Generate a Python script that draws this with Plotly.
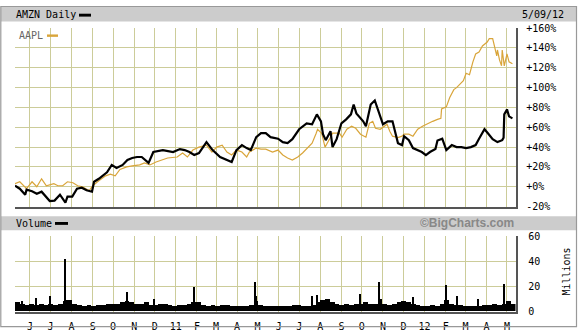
import plotly.graph_objects as go
import pandas as pd

# ---------------- data ----------------
amzn_dates = ["2010-05-10","2010-05-17","2010-05-25","2010-05-27","2010-06-04","2010-06-11","2010-06-18","2010-06-30",
              "2010-07-07","2010-07-15","2010-07-23","2010-07-26","2010-08-02","2010-08-09","2010-08-16","2010-08-23",
              "2010-08-31","2010-09-03","2010-09-10","2010-09-22","2010-09-29","2010-10-06","2010-10-15","2010-10-22",
              "2010-10-29","2010-11-05","2010-11-12","2010-11-22","2010-11-29","2010-12-13","2010-12-28","2011-01-07",
              "2011-01-14","2011-01-21","2011-01-28","2011-02-04","2011-02-15","2011-02-24","2011-03-07","2011-03-17",
              "2011-03-24","2011-03-31","2011-04-08","2011-04-15","2011-04-21","2011-04-29","2011-05-06","2011-05-13",
              "2011-05-20","2011-05-31","2011-06-07","2011-06-14","2011-06-21","2011-07-01","2011-07-12","2011-07-20",
              "2011-07-27","2011-08-02","2011-08-05","2011-08-09","2011-08-16","2011-08-19","2011-08-25","2011-09-01",
              "2011-09-08","2011-09-15","2011-09-19","2011-09-23","2011-10-03","2011-10-07","2011-10-14","2011-10-20",
              "2011-10-26","2011-11-01","2011-11-08","2011-11-15","2011-11-23","2011-11-29","2011-12-02","2011-12-09",
              "2011-12-15","2011-12-21","2011-12-28","2012-01-03","2012-01-09","2012-01-17","2012-01-20","2012-01-27",
              "2012-02-02","2012-02-10","2012-02-17","2012-02-24","2012-03-02","2012-03-09","2012-03-16","2012-03-21",
              "2012-03-29","2012-04-03","2012-04-10","2012-04-17","2012-04-24","2012-04-26","2012-04-27","2012-05-01",
              "2012-05-04","2012-05-09"]
amzn_pct = [1,-2,-8,-3,-4.5,-7,-5,-14.5,
            -14,-8,-16,-10,-10,-2,-1,-3.5,
            -5,5,8,14.5,22,19,22,27,
            29,30,30,24,35,37,35,38,
            37,35,32,34,45,37,30,27,
            25,37,42,39,37,50,54,54,
            50,48.5,45,44,48,58,64,63,
            73,66,53,47,56,40,48,64,
            68,73,83,74,66,61,83,87,
            76,63,66,66,44,42,51,47,
            39,37,35,32,35,38,46.6,48.5,
            37,42,40,40,39,40,42,48.5,
            58,54,48,45,47,49.5,73,78,
            71,69]

aapl_dates = ["2010-05-10","2010-05-17","2010-05-27","2010-06-04","2010-06-11","2010-06-18","2010-06-25","2010-07-06",
              "2010-07-12","2010-07-19","2010-07-26","2010-08-03","2010-08-10","2010-08-17","2010-08-27","2010-09-01",
              "2010-09-10","2010-09-20","2010-09-27","2010-10-04","2010-10-11","2010-10-21","2010-10-29","2010-11-09",
              "2010-11-16","2010-11-24","2010-12-03","2010-12-20","2011-01-03","2011-01-11","2011-01-18","2011-01-26",
              "2011-02-04","2011-02-15","2011-02-23","2011-03-02","2011-03-10","2011-03-17","2011-03-24","2011-03-31",
              "2011-04-08","2011-04-15","2011-04-19","2011-04-29","2011-05-06","2011-05-13","2011-05-23","2011-05-31",
              "2011-06-07","2011-06-14","2011-06-21","2011-06-29","2011-07-06","2011-07-13","2011-07-20","2011-07-26",
              "2011-07-28","2011-08-03","2011-08-05","2011-08-08","2011-08-16","2011-08-19","2011-08-29","2011-09-02",
              "2011-09-09","2011-09-16","2011-09-22","2011-09-29","2011-10-07","2011-10-12","2011-10-17","2011-10-21",
              "2011-10-28","2011-11-07","2011-11-11","2011-11-15","2011-11-23","2011-11-29","2011-12-02","2011-12-09",
              "2011-12-15","2011-12-22","2011-12-29","2012-01-06","2012-01-13","2012-01-20","2012-01-25","2012-01-26",
              "2012-02-02","2012-02-07","2012-02-13","2012-02-17","2012-02-21","2012-02-27","2012-03-02","2012-03-07",
              "2012-03-12","2012-03-16","2012-03-21","2012-03-26","2012-04-02","2012-04-05","2012-04-10","2012-04-13",
              "2012-04-16","2012-04-17","2012-04-20","2012-04-23","2012-04-24","2012-04-27","2012-05-01","2012-05-04",
              "2012-05-09"]
aapl_pct = [3,5,-2,5,0,8,1,3,
            1,1,5,4,1,0,-4,1,
            6,11,12.6,11,17.5,20,21,22,
            24,22,25,29,30,34,30,37,
            40,42,35,40,42,35,32,37,
            35,30,35,39,38,38,35,37,
            32,29,27,30,34,39,44,54,
            58,54,47,40,50,54,54,50,
            58,61,59,53,50,64,66,59,
            58,63,56,51,49.5,51,53,53,
            51,58,61,64,66,68,69,78.6,
            80.6,90,98,100,103,107,114.5,113,
            126,134,136,142,146,149.5,149.5,142,
            132,138,128,122,138,122,134,126,
            124]

vol_week_start = pd.date_range("2010-05-10", periods=105, freq="7D")
vol_week_millions = [7,6,5,6, 5,6,5,6, 5,6,8,9, 6,5,4,5,4, 5,5,6,6, 6,7,8,7, 6,6,7,5,5, 6,6,5,4,
                     5,5,6,7,7, 5,4,5,4, 5,5,4,4, 4,4,5,8, 5,4,4,4,4, 4,4,5,5, 4,4,5,7,
                     9,10,7,6,5, 6,5,6,6, 7,6,6,10,6, 5,6,7,8, 7,6,5,4,
                     4,5,4,6,9, 6,5,5,4, 4,4,4,5, 5,6,5,6,8, 6]
vol_spike_dates = ["2010-05-21","2010-06-10","2010-06-30","2010-07-23","2010-07-26","2010-10-22","2010-11-30",
                   "2011-01-28","2011-04-27","2011-04-28","2011-07-20","2011-07-27","2011-09-28","2011-10-26",
                   "2011-12-15","2012-02-01","2012-02-17","2012-03-20","2012-04-27"]
vol_spike_millions = [8,10.5,12,41.5,9,15,9.5,
                      19,23,12,12,13,14,23,
                      11,21,12,10,22]

month_ticks = ["2010-06-01","2010-07-01","2010-08-01","2010-09-01","2010-10-01","2010-11-01","2010-12-01",
               "2011-01-01","2011-02-01","2011-03-01","2011-04-01","2011-05-01","2011-06-01","2011-07-01",
               "2011-08-01","2011-09-01","2011-10-01","2011-11-01","2011-12-01","2012-01-01","2012-02-01",
               "2012-03-01","2012-04-01","2012-05-01"]
month_labels = ["J","J","A","S","O","N","D","11","F","M","A","M","J","J","A","S","O","N","D","12","F","M","A","M"]
pct_ticks = [-20,0,20,40,60,80,100,120,140,160]
pct_labels = ["-20%","+0%","+20%","+40%","+60%","+80%","+100%","+120%","+140%","+160%"]
vol_ticks = [0,20,40,60]
vol_labels = ["0","20","40","60"]

# ---------------- layout helpers ----------------
W, H = 579, 335
def px(x):
    return x / W
def py(y):
    return (H - y) / H

GRID = "#CCCC99"
AXIS = "#555555"
GOLD = "#D9A53A"
MONO = "DejaVu Sans Mono"
xrange_ = ["2010-05-10", "2012-05-13 12:00"]

fig = go.Figure()
fig.add_trace(go.Scatter(x=aapl_dates, y=aapl_pct, mode="lines",
                         line=dict(color=GOLD, width=1.2), xaxis="x", yaxis="y"))
fig.add_trace(go.Scatter(x=amzn_dates, y=amzn_pct, mode="lines",
                         line=dict(color="black", width=2.2), xaxis="x", yaxis="y"))
fig.add_trace(go.Bar(x=vol_week_start, y=vol_week_millions, marker=dict(color="black", line=dict(width=0)),
                     width=7 * 86400000, offset=0, xaxis="x2", yaxis="y2"))
fig.add_trace(go.Bar(x=vol_spike_dates, y=vol_spike_millions, marker=dict(color="black", line=dict(width=0)),
                     width=1.5 * 86400000, xaxis="x2", yaxis="y2"))

xdom = [px(15), px(515.5)]
common_x = dict(domain=xdom, range=xrange_, type="date", tickmode="array", tickvals=month_ticks,
                showgrid=True, gridcolor=GRID, gridwidth=1, zeroline=False,
                showline=True, linecolor=AXIS, linewidth=1.5, ticks="")
fig.update_layout(
    width=W, height=H, margin=dict(l=0, r=0, t=0, b=0),
    paper_bgcolor="white", plot_bgcolor="white", showlegend=False,
    barmode="overlay", bargap=0,
    font=dict(family=MONO, size=10, color="black"),
    xaxis=dict(common_x, anchor="y", showticklabels=False),
    yaxis=dict(domain=[py(208), py(23)], range=[-20, 160], side="right", anchor="x",
               tickmode="array", tickvals=pct_ticks, ticktext=pct_labels,
               showgrid=True, gridcolor=GRID, gridwidth=1, zeroline=False,
               showline=True, linecolor=AXIS, linewidth=1.5, ticks="", ticklabelstandoff=7,
               tickfont=dict(family=MONO, size=10, color="black")),
    xaxis2=dict(common_x, anchor="y2", ticktext=month_labels, ticklabelstandoff=5,
                tickfont=dict(family=MONO, size=10, color="black")),
    yaxis2=dict(domain=[py(317), py(239)], range=[0, 60], side="right", anchor="x2",
                tickmode="array", tickvals=vol_ticks, ticktext=vol_labels,
                showgrid=True, gridcolor=GRID, gridwidth=1, zeroline=False,
                showline=True, linecolor=AXIS, linewidth=1.5, ticks="", ticklabelstandoff=9,
                tickfont=dict(family=MONO, size=10, color="black")),
)

shapes = [
    dict(type="rect", xref="paper", yref="paper", x0=px(1), x1=px(576.5), y0=py(16), y1=py(1),
         fillcolor="#CCCCCC", line=dict(width=0), layer="below"),
    dict(type="rect", xref="paper", yref="paper", x0=px(1), x1=px(576.5), y0=py(232.5), y1=py(218),
         fillcolor="#CCCCCC", line=dict(width=0), layer="below"),
    dict(type="rect", xref="paper", yref="paper", x0=px(0.8), x1=px(576.5), y0=py(332.5), y1=py(0.5),
         fillcolor="rgba(0,0,0,0)", line=dict(color="#999999", width=1.2)),
    dict(type="rect", xref="paper", yref="paper", x0=px(79), x1=px(91), y0=py(11), y1=py(8),
         fillcolor="black", line=dict(width=0)),
    dict(type="rect", xref="paper", yref="paper", x0=px(47), x1=px(58), y0=py(32), y1=py(29.5),
         fillcolor=GOLD, line=dict(width=0)),
    dict(type="rect", xref="paper", yref="paper", x0=px(55), x1=px(68), y0=py(227), y1=py(224),
         fillcolor="black", line=dict(width=0)),
]
fig.update_layout(shapes=shapes)

def ann(text, x, y, xanchor="left", color="black", size=10, family=MONO, angle=0):
    return dict(text=text, x=px(x), y=py(y), xref="paper", yref="paper", xanchor=xanchor,
                yanchor="middle", showarrow=False, textangle=angle,
                font=dict(family=family, size=size, color=color))

fig.update_layout(annotations=[
    ann("AMZN Daily", 14, 9),
    ann("5/09/12", 566, 9, xanchor="right"),
    ann("AAPL", 17, 31, color="#666666"),
    ann("Volume", 14, 225.5),
    ann("<b>©BigCharts.com</b>", 516, 225.5, xanchor="right", color="#888888", size=12,
        family="Liberation Sans"),
    dict(text="Millions", x=px(566.5), y=py(276), xref="paper", yref="paper", xanchor="center",
         yanchor="middle", showarrow=False, textangle=-90, font=dict(family=MONO, size=10, color="black")),
])

fig.write_html("out.html")
